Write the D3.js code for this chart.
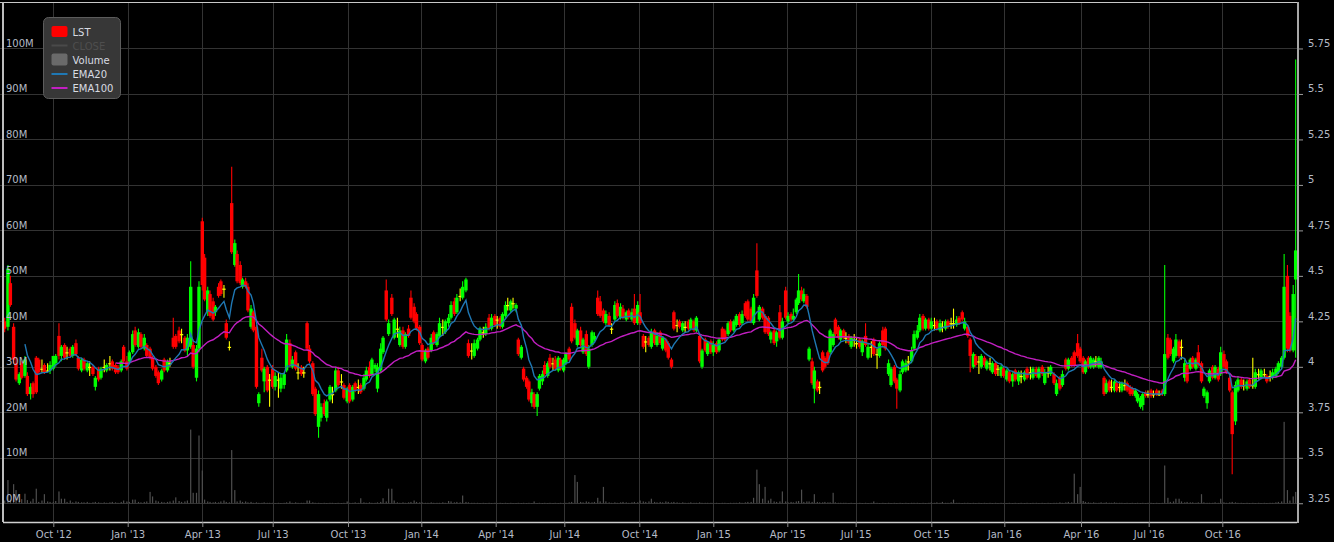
<!DOCTYPE html>
<html><head><meta charset="utf-8">
<script src="https://cdn.jsdelivr.net/npm/d3@7"></script>
<style>
html,body{margin:0;padding:0;background:#000;overflow:hidden}
svg{display:block}
text{font-family:"DejaVu Sans",sans-serif;font-size:10px}
</style>
</head><body>
<svg id="chart" width="1334" height="542"></svg>
<script>
// ---------------- DATA ----------------
const symbol = "LST";
// x-axis ticks (quarter starts) and their labels
const tickDates = ["2012-10-01","2013-01-01","2013-04-01","2013-07-01","2013-10-01","2014-01-01","2014-04-01","2014-07-01","2014-10-01","2015-01-01","2015-04-01","2015-07-01","2015-10-01","2016-01-01","2016-04-01","2016-07-01","2016-10-01"];
const tickLabels = ["Oct '12","Jan '13","Apr '13","Jul '13","Oct '13","Jan '14","Apr '14","Jul '14","Oct '14","Jan '15","Apr '15","Jul '15","Oct '15","Jan '16","Apr '16","Jul '16","Oct '16"];
const priceTicks = [3.25,3.5,3.75,4,4.25,4.5,4.75,5,5.25,5.5,5.75];
const volumeTicks = [0,10,20,30,40,50,60,70,80,90,100]; // millions
const legendItems = ["LST","CLOSE","Volume","EMA20","EMA100"];

// Candles, two sessions per week (Thu / Mon), rows: [open, high, low, close, volume (M)]
const p2012_q3 = [
[4.25,4.27,4.19,4.21,0.6],[4.22,4.56,4.20,4.54,5.1],[4.46,4.50,4.33,4.34,0.8],[4.22,4.24,4.02,4.04,4.2],
[4.02,4.05,3.92,3.93,2.9],[3.91,3.97,3.90,3.96,0.5],[4.02,4.03,3.93,3.94,0.9],[3.95,4.06,3.94,4.04,2.1],
[3.95,3.97,3.84,3.85,0.7],[3.85,3.91,3.82,3.89,0.4],[3.91,3.92,3.83,3.85,1.0],[4.05,4.06,3.85,3.86,3.2],
[4.04,4.05,3.96,3.97,0.3],[3.99,4.04,3.97,3.99,0.6],[4.01,4.02,3.96,3.97,2.0],[3.98,4.02,3.97,3.98,0.4],
[3.98,4.03,3.96,4.01,0.3]];
const p2012_q4 = [
[3.99,4.06,3.98,4.06,0.3],[4.02,4.07,4.00,4.06,0.5],[4.17,4.24,4.04,4.06,2.6],[4.06,4.12,4.03,4.11,1.0],
[4.12,4.13,4.04,4.05,1.0],[4.08,4.11,4.04,4.08,0.3],[4.10,4.11,4.05,4.06,0.6],[4.06,4.12,4.05,4.11,0.2],
[4.13,4.15,4.06,4.07,0.4],[4.05,4.06,3.98,3.99,0.3],[3.98,4.05,3.97,4.04,0.2],[4.04,4.05,3.98,3.99,0.2],
[3.98,4.03,3.97,4.02,0.3],[4.00,4.03,3.95,4.00,0.1],[4.00,4.01,3.95,3.96,0.2],[3.89,3.95,3.87,3.94,0.3],
[3.99,4.00,3.92,3.93,0.2],[3.94,4.00,3.93,3.99,0.1],[4.00,4.04,3.97,4.00,0.2],[3.98,4.02,3.97,4.01,0.1],
[4.02,4.06,3.98,4.02,0.2],[4.03,4.04,3.98,3.99,0.3],[4.01,4.02,3.96,3.97,0.2],[4.00,4.01,3.96,3.97,0.1],
[3.98,4.04,3.97,4.03,0.3],[4.11,4.12,4.02,4.03,0.6],[4.03,4.06,3.98,3.99,0.4]];
const p2013_q1 = [
[4.03,4.09,4.02,4.08,0.3],[4.08,4.20,4.07,4.18,0.8],[4.20,4.22,4.11,4.12,0.8],[4.11,4.21,4.10,4.19,0.3],
[4.18,4.19,4.10,4.11,0.2],[4.10,4.18,4.09,4.16,0.3],[4.12,4.13,4.05,4.06,0.4],[4.10,4.11,4.04,4.05,2.5],
[4.05,4.06,3.98,3.99,1.5],[4.00,4.01,3.94,3.95,0.6],[3.97,3.98,3.90,3.91,0.4],[3.93,3.99,3.92,3.98,0.3],
[4.04,4.05,3.97,3.98,0.2],[3.98,4.04,3.97,4.03,0.3],[4.02,4.05,4.00,4.02,0.4],[4.16,4.27,4.10,4.11,0.6],
[4.17,4.18,4.10,4.11,1.3],[4.20,4.22,4.13,4.14,0.5],[4.18,4.21,4.13,4.18,0.3],[4.16,4.17,4.08,4.09,0.4],
[4.09,4.18,4.06,4.16,0.6],[4.11,4.58,4.10,4.44,16.2],[4.12,4.15,3.99,4.00,2.3],[3.94,4.12,3.92,4.10,2.3],
[4.10,4.47,4.08,4.44,14.9]];
const p2013_q2 = [
[4.80,4.82,4.42,4.45,7.2],[4.60,4.62,4.36,4.37,0.8],[4.30,4.44,4.28,4.42,0.4],[4.40,4.42,4.27,4.28,0.3],
[4.36,4.38,4.25,4.26,0.2],[4.30,4.34,4.28,4.33,0.3],[4.44,4.46,4.38,4.39,0.2],[4.47,4.48,4.39,4.40,0.4],
[4.43,4.45,4.38,4.43,0.6],[4.24,4.26,4.15,4.16,0.3],[4.11,4.14,4.09,4.11,0.2],[4.90,5.10,4.62,4.63,11.7],
[4.56,4.70,4.55,4.68,2.9],[4.62,4.64,4.46,4.47,0.4],[4.56,4.58,4.45,4.46,0.6],[4.44,4.49,4.43,4.48,0.3],
[4.47,4.49,4.43,4.44,0.4],[4.44,4.46,4.30,4.31,0.2],[4.22,4.34,4.21,4.32,0.3],[4.30,4.31,4.19,4.20,0.1],
[4.22,4.23,3.88,3.89,0.2],[3.80,3.86,3.78,3.85,0.1],[4.05,4.10,3.97,3.98,0.1],[3.92,4.00,3.86,3.99,0.2],
[4.00,4.01,3.86,3.87,0.1],[3.93,3.96,3.78,3.93,0.1]];
const p2013_q3 = [
[3.99,4.01,3.88,3.89,0.1],[3.89,3.97,3.87,3.95,0.05],[3.93,3.97,3.83,3.93,0.1],[3.88,3.96,3.86,3.94,0.05],
[3.90,3.97,3.88,3.96,0.1],[3.98,4.18,3.97,4.15,0.2],[4.13,4.15,4.00,4.01,0.4],[4.00,4.06,3.99,4.04,0.1],
[4.08,4.09,3.98,3.99,0.2],[3.97,4.02,3.93,3.97,0.1],[4.00,4.01,3.95,3.96,0.1],[3.97,4.00,3.94,3.97,0.1],
[4.24,4.25,4.09,4.10,0.6],[4.10,4.12,4.02,4.03,0.6],[4.02,4.03,3.84,3.85,0.2],[3.88,3.89,3.73,3.74,0.1],
[3.67,3.87,3.61,3.85,0.1],[3.72,3.80,3.70,3.78,0.05],[3.80,3.82,3.73,3.74,0.1],[3.72,3.82,3.70,3.81,0.05],
[3.82,3.90,3.81,3.89,0.1],[3.85,3.89,3.80,3.85,0.1],[3.87,4.00,3.86,3.98,0.05],[3.98,4.00,3.89,3.90,0.1],
[3.92,3.96,3.88,3.92,0.05],[3.90,3.91,3.82,3.83,0.1],[3.81,3.89,3.80,3.88,0.4]];
const p2013_q4 = [
[3.90,3.91,3.80,3.81,0.1],[3.82,3.90,3.81,3.89,0.1],[3.91,3.92,3.86,3.87,0.2],[3.89,3.93,3.85,3.89,0.1],
[3.90,3.91,3.85,3.86,1.1],[3.88,3.96,3.87,3.94,0.2],[3.93,4.00,3.92,3.98,0.1],[4.00,4.03,3.94,3.95,0.2],
[3.96,4.05,3.95,4.04,0.1],[3.99,4.02,3.97,4.01,0.1],[3.88,4.02,3.86,4.00,0.2],[3.98,4.13,3.97,4.10,0.3],
[4.08,4.17,4.07,4.16,1.1],[4.42,4.48,4.25,4.26,0.4],[4.18,4.26,4.17,4.24,3.2],[4.38,4.40,4.28,4.29,3.2],
[4.16,4.27,4.15,4.26,0.6],[4.21,4.27,4.16,4.21,0.2],[4.12,4.22,4.11,4.20,0.1],[4.20,4.22,4.10,4.11,0.2],
[4.11,4.19,4.10,4.18,0.1],[4.21,4.23,4.16,4.17,0.2],[4.38,4.42,4.26,4.27,0.3],[4.33,4.35,4.24,4.25,0.6],
[4.29,4.30,4.20,4.21,0.3],[4.22,4.23,4.12,4.13,0.2]];
const p2014_q1 = [
[4.12,4.13,4.03,4.04,0.2],[4.03,4.10,4.02,4.09,0.1],[4.10,4.11,4.04,4.05,0.1],[4.09,4.18,4.08,4.16,0.2],
[4.19,4.20,4.12,4.13,0.1],[4.12,4.19,4.11,4.18,0.1],[4.17,4.27,4.16,4.24,0.1],[4.22,4.26,4.17,4.22,0.2],
[4.19,4.26,4.18,4.25,0.1],[4.24,4.29,4.22,4.27,0.5],[4.27,4.36,4.26,4.34,0.4],[4.36,4.38,4.28,4.29,0.2],
[4.30,4.40,4.29,4.38,0.3],[4.39,4.43,4.36,4.39,0.2],[4.38,4.47,4.37,4.44,1.7],[4.42,4.49,4.41,4.48,0.3],
[4.13,4.15,4.05,4.06,0.2],[4.09,4.13,4.04,4.09,0.1],[4.06,4.15,4.05,4.13,0.1],[4.10,4.16,4.09,4.15,0.1],
[4.15,4.22,4.14,4.21,0.05],[4.19,4.22,4.16,4.19,0.1],[4.18,4.24,4.17,4.22,0.05],[4.27,4.29,4.20,4.21,0.1],
[4.21,4.29,4.20,4.27,0.05],[4.28,4.29,4.22,4.23,0.1]];
const p2014_q2 = [
[4.26,4.28,4.21,4.26,0.05],[4.27,4.28,4.21,4.22,0.1],[4.22,4.30,4.21,4.29,0.05],[4.28,4.36,4.27,4.34,0.1],
[4.34,4.38,4.31,4.34,0.05],[4.31,4.37,4.30,4.36,0.1],[4.35,4.38,4.32,4.35,0.05],[4.32,4.35,4.30,4.34,0.05],
[4.15,4.16,4.06,4.07,0.1],[4.05,4.12,4.04,4.11,0.05],[3.99,4.00,3.92,3.93,0.1],[3.94,3.95,3.88,3.89,0.05],
[3.92,3.93,3.81,3.82,0.1],[3.80,3.88,3.78,3.86,0.05],[3.85,3.86,3.77,3.78,0.4],[3.78,3.86,3.73,3.85,0.05],
[3.88,3.96,3.87,3.95,0.1],[3.92,3.98,3.90,3.96,0.05],[4.01,4.03,3.95,3.96,0.1],[3.95,4.03,3.94,4.02,0.05],
[4.05,4.07,3.99,4.00,0.1],[4.02,4.05,3.98,4.02,0.05],[4.04,4.06,3.98,3.99,0.1],[3.98,4.06,3.97,4.05,0.05],
[4.04,4.05,3.98,3.99,0.1],[3.98,4.05,3.97,4.04,0.05]];
const p2014_q3 = [
[4.02,4.08,4.01,4.07,0.1],[4.10,4.11,4.03,4.04,0.2],[4.33,4.35,4.13,4.14,0.3],[4.24,4.26,4.15,4.16,6.2],
[4.12,4.21,4.11,4.20,4.7],[4.20,4.22,4.11,4.12,0.3],[4.08,4.16,4.07,4.15,0.2],[4.18,4.20,4.06,4.07,0.4],
[4.00,4.12,3.99,4.10,0.3],[4.12,4.20,4.11,4.19,0.2],[4.15,4.19,4.14,4.17,0.3],[4.38,4.42,4.28,4.29,1.2],
[4.36,4.39,4.27,4.28,0.4],[4.31,4.32,4.24,4.25,3.6],[4.24,4.31,4.23,4.29,0.4],[4.28,4.30,4.22,4.23,0.2],
[4.21,4.24,4.18,4.21,0.1],[4.26,4.36,4.25,4.34,0.2],[4.35,4.37,4.27,4.28,0.1],[4.27,4.35,4.26,4.33,0.2],
[4.32,4.34,4.26,4.27,0.3],[4.26,4.31,4.25,4.30,0.2],[4.31,4.32,4.26,4.27,0.1],[4.26,4.32,4.25,4.30,0.2],
[4.32,4.40,4.23,4.24,0.3],[4.24,4.36,4.23,4.34,0.2]];
const p2014_q4 = [
[4.30,4.40,4.23,4.24,0.6],[4.17,4.18,4.10,4.11,0.4],[4.14,4.17,4.08,4.14,0.3],[4.16,4.17,4.11,4.12,0.4],
[4.11,4.21,4.10,4.19,1.0],[4.20,4.21,4.12,4.13,0.3],[4.12,4.19,4.11,4.17,0.2],[4.19,4.20,4.12,4.13,0.3],
[4.10,4.17,4.09,4.16,0.2],[4.15,4.16,4.08,4.09,0.4],[4.13,4.14,4.04,4.05,0.3],[4.04,4.05,3.99,4.00,0.2],
[4.30,4.31,4.20,4.21,0.3],[4.23,4.26,4.19,4.23,0.2],[4.25,4.26,4.21,4.22,0.1],[4.20,4.25,4.19,4.24,0.2],
[4.22,4.25,4.19,4.22,0.1],[4.25,4.26,4.20,4.21,0.1],[4.21,4.27,4.20,4.26,0.2],[4.25,4.26,4.19,4.20,0.1],
[4.20,4.28,4.19,4.27,0.1],[4.17,4.18,4.02,4.03,0.2],[4.00,4.10,3.99,4.09,0.1],[4.15,4.16,4.08,4.09,0.1],
[4.07,4.14,4.06,4.13,0.1],[4.14,4.15,4.07,4.08,0.1]];
const p2015_q1 = [
[4.08,4.14,4.06,4.12,0.1],[4.13,4.14,4.07,4.08,0.1],[4.09,4.16,4.08,4.15,0.05],[4.21,4.22,4.14,4.15,0.1],
[4.20,4.21,4.14,4.15,0.1],[4.18,4.25,4.17,4.24,0.05],[4.25,4.26,4.19,4.20,0.1],[4.20,4.26,4.19,4.25,0.1],
[4.23,4.29,4.22,4.28,0.1],[4.29,4.30,4.22,4.23,0.2],[4.24,4.31,4.23,4.29,0.1],[4.35,4.36,4.27,4.28,0.2],
[4.36,4.37,4.25,4.26,0.3],[4.32,4.33,4.24,4.25,0.3],[4.24,4.40,4.23,4.38,1.2],[4.53,4.68,4.38,4.39,7.4],
[4.26,4.34,4.25,4.33,4.2],[4.32,4.33,4.26,4.27,1.0],[4.28,4.29,4.18,4.19,3.6],[4.27,4.28,4.17,4.18,0.6],
[4.15,4.20,4.13,4.19,1.0],[4.20,4.21,4.12,4.13,0.4],[4.14,4.20,4.11,4.19,0.3],[4.30,4.34,4.15,4.16,0.4],
[4.16,4.27,4.15,4.25,2.6],[4.42,4.44,4.26,4.27,0.4]];
const p2015_q2 = [
[4.25,4.30,4.24,4.28,0.2],[4.29,4.30,4.25,4.26,0.3],[4.26,4.32,4.25,4.28,0.2],[4.30,4.38,4.29,4.37,0.4],
[4.35,4.51,4.34,4.42,0.5],[4.42,4.44,4.36,4.37,3.0],[4.36,4.43,4.35,4.40,0.3],[4.39,4.40,4.32,4.33,0.4],
[4.04,4.11,4.03,4.10,0.4],[4.03,4.05,3.90,3.91,0.3],[3.88,4.00,3.80,3.98,2.0],[3.92,3.93,3.86,3.87,0.3],
[3.89,3.92,3.85,3.89,0.2],[4.08,4.09,3.97,3.98,0.2],[4.05,4.06,3.99,4.00,0.3],[4.08,4.09,4.01,4.02,0.2],
[4.08,4.21,4.07,4.20,0.2],[4.12,4.19,4.11,4.18,2.3],[4.26,4.27,4.17,4.18,0.2],[4.22,4.23,4.15,4.16,0.1],
[4.15,4.21,4.14,4.20,0.1],[4.20,4.21,4.15,4.16,0.1],[4.16,4.19,4.13,4.16,0.1],[4.17,4.18,4.12,4.13,0.05],
[4.11,4.17,4.10,4.16,0.1],[4.15,4.18,4.11,4.15,0.05]];
const p2015_q3 = [
[4.13,4.16,4.10,4.13,0.05],[4.15,4.16,4.10,4.11,0.1],[4.08,4.15,4.06,4.14,0.05],[4.17,4.24,4.11,4.12,0.1],
[4.05,4.13,4.04,4.11,0.05],[4.11,4.14,4.05,4.11,0.1],[4.15,4.16,4.06,4.07,0.4],[4.07,4.10,3.99,4.07,0.1],
[4.06,4.14,4.05,4.13,0.05],[4.20,4.22,4.11,4.12,0.1],[4.21,4.22,4.09,4.10,0.05],[3.96,4.04,3.95,4.02,0.1],
[3.90,4.00,3.89,3.99,0.05],[4.00,4.01,3.91,3.92,0.1],[3.93,3.94,3.77,3.88,0.05],[3.87,3.98,3.86,3.96,0.1],
[3.97,4.04,3.96,4.03,0.05],[3.98,4.04,3.97,4.02,0.1],[4.03,4.06,3.98,4.03,0.05],[4.03,4.11,4.02,4.09,0.1],
[4.10,4.20,4.09,4.18,0.1],[4.16,4.23,4.15,4.20,0.1],[4.20,4.29,4.19,4.27,0.05],[4.28,4.29,4.20,4.21,0.1],
[4.21,4.27,4.20,4.26,0.05],[4.26,4.27,4.20,4.21,0.1]];
const p2015_q4 = [
[4.21,4.27,4.20,4.25,0.2],[4.23,4.27,4.20,4.23,0.1],[4.25,4.26,4.20,4.21,0.2],[4.20,4.26,4.19,4.24,0.1],
[4.22,4.25,4.19,4.22,0.3],[4.21,4.26,4.20,4.25,0.1],[4.25,4.26,4.21,4.22,0.1],[4.24,4.27,4.21,4.24,0.2],
[4.24,4.32,4.21,4.24,0.8],[4.23,4.28,4.22,4.26,0.1],[4.27,4.28,4.23,4.24,0.1],[4.30,4.31,4.25,4.26,0.05],
[4.21,4.27,4.20,4.25,0.1],[4.22,4.23,4.16,4.17,0.1],[4.15,4.16,3.97,4.06,0.05],[4.00,4.08,3.99,4.07,0.1],
[4.06,4.07,4.00,4.01,0.05],[4.03,4.06,3.96,4.03,0.1],[4.00,4.07,3.99,4.06,0.05],[4.05,4.06,4.00,4.01,0.1],
[3.99,4.04,3.98,4.03,0.05],[4.02,4.05,3.98,4.02,0.1],[3.97,4.03,3.96,4.02,0.05],[4.02,4.03,3.95,3.96,0.1],
[3.99,4.01,3.95,3.99,0.05],[3.95,4.01,3.94,4.00,0.1],[3.99,4.00,3.94,3.95,0.05]];
const p2016_q1 = [
[3.93,3.99,3.92,3.98,0.05],[3.97,3.98,3.91,3.92,0.1],[3.92,3.97,3.89,3.96,0.05],[3.98,3.99,3.92,3.93,0.1],
[3.92,3.98,3.90,3.97,0.05],[3.95,3.98,3.91,3.95,0.1],[3.93,3.98,3.92,3.97,0.05],[3.99,4.00,3.93,3.94,0.1],
[3.97,4.00,3.93,3.97,0.05],[3.94,4.00,3.93,3.99,0.1],[3.99,4.00,3.94,3.95,0.1],[3.94,4.00,3.93,3.99,0.05],
[4.00,4.01,3.95,3.96,0.1],[3.91,3.99,3.90,3.97,0.05],[3.97,4.00,3.94,3.97,0.1],[3.96,4.01,3.95,4.00,0.05],
[3.96,3.97,3.90,3.91,0.1],[3.85,3.93,3.84,3.91,0.1],[3.94,3.95,3.87,3.88,0.2],[3.90,3.98,3.89,3.96,0.1],
[4.04,4.05,3.98,3.99,0.2],[3.99,4.05,3.98,4.04,0.3],[4.05,4.06,4.00,4.01,0.2],[4.08,4.09,4.00,4.01,6.5],
[4.13,4.18,4.05,4.06,2.0],[4.10,4.11,4.02,4.03,3.6]];
const p2016_q2 = [
[4.05,4.06,3.96,3.97,0.5],[3.97,4.04,3.96,4.03,0.3],[4.05,4.06,3.99,4.00,0.2],[4.00,4.06,3.99,4.05,0.1],
[4.00,4.05,3.99,4.04,0.2],[4.03,4.06,4.00,4.03,0.1],[4.00,4.06,3.99,4.05,0.1],[4.00,4.05,3.99,4.03,0.2],
[3.94,3.95,3.84,3.85,0.1],[3.86,3.93,3.85,3.91,0.2],[3.92,3.93,3.86,3.87,0.1],[3.89,3.93,3.86,3.89,0.1],
[3.87,3.93,3.86,3.92,0.2],[3.91,3.92,3.86,3.87,0.1],[3.89,3.92,3.86,3.89,0.1],[3.87,3.92,3.86,3.91,0.1],
[3.90,3.93,3.87,3.90,0.05],[3.91,3.92,3.86,3.87,0.1],[3.89,3.90,3.84,3.85,0.05],[3.88,3.89,3.84,3.85,0.1],
[3.84,3.88,3.83,3.87,0.05],[3.81,3.86,3.80,3.85,0.1],[3.78,3.84,3.77,3.83,0.05],[3.79,3.86,3.76,3.85,0.1],
[3.86,3.87,3.83,3.84,0.05],[3.85,3.87,3.83,3.85,0.1]];
const p2016_q3 = [
[3.87,3.88,3.83,3.84,0.1],[3.85,3.87,3.83,3.85,0.05],[3.87,3.88,3.84,3.85,0.1],[3.85,3.87,3.84,3.85,0.05],
[3.87,3.88,3.84,3.85,0.1],[3.85,4.56,3.84,4.07,8.3],[4.16,4.18,4.04,4.05,1.2],[4.15,4.16,4.06,4.07,0.3],
[4.03,4.11,4.02,4.10,0.4],[4.06,4.18,4.05,4.15,1.0],[4.14,4.15,4.05,4.06,1.0],[4.11,4.15,4.04,4.11,0.4],
[3.94,4.04,3.92,4.02,0.2],[4.01,4.02,3.91,3.92,0.3],[3.99,4.05,3.98,4.04,0.2],[4.05,4.06,3.99,4.00,0.2],
[3.99,4.05,3.98,4.04,0.1],[4.08,4.12,4.00,4.01,0.2],[4.02,4.03,3.91,3.92,2.0],[3.84,3.89,3.83,3.88,0.2],
[3.80,3.87,3.77,3.86,0.1],[3.92,3.99,3.91,3.98,0.1],[4.00,4.01,3.93,3.94,0.1],[3.94,4.01,3.93,4.00,0.2],
[3.99,4.00,3.92,3.93,0.1],[3.96,4.11,3.95,4.08,1.0]];
const p2016_q4 = [
[4.07,4.09,3.99,4.00,0.2],[4.03,4.04,3.96,3.97,0.1],[3.94,3.95,3.86,3.87,0.2],[3.86,3.87,3.41,3.63,0.3],
[3.70,3.92,3.68,3.90,0.2],[3.87,3.95,3.86,3.93,0.1],[3.93,3.94,3.88,3.89,0.1],[3.90,3.93,3.87,3.90,0.05],
[3.88,3.93,3.87,3.92,0.1],[3.93,3.94,3.88,3.89,0.05],[3.90,4.05,3.88,3.90,0.1],[3.89,3.99,3.88,3.97,0.05],
[3.96,3.99,3.93,3.96,0.1],[3.94,3.99,3.93,3.98,0.05],[3.96,3.99,3.94,3.96,0.1],[3.95,3.96,3.91,3.92,0.05],
[3.95,3.98,3.92,3.95,0.1],[3.94,3.99,3.93,3.97,0.1],[3.95,4.00,3.94,3.99,0.2],[3.97,4.03,3.96,4.02,0.3],
[4.00,4.06,3.99,4.05,0.4],[4.05,4.62,4.04,4.44,17.9],[4.50,4.56,4.08,4.10,2.9],[4.28,4.30,4.08,4.09,0.6],
[4.09,4.45,4.08,4.40,1.5],[4.48,5.69,4.05,4.64,2.5]];

// ---------------- LAYOUT ----------------
const W = 1334, H = 542;
const plot = {left: 3, right: 1297, top: 3, bottom: 522};
const colors = {up: "#00ff00", down: "#ff0000", flat: "#ffff00", volume: "#4e4e4e",
  ema20: "#1f78b4", ema100: "#c21fc2", grid: "#333333", text: "#b4bac6"};
const bodyWidth = 3.4;

const rows = [].concat(p2012_q3, p2012_q4, p2013_q1, p2013_q2, p2013_q3, p2013_q4,
  p2014_q1, p2014_q2, p2014_q3, p2014_q4, p2015_q1, p2015_q2, p2015_q3, p2015_q4,
  p2016_q1, p2016_q2, p2016_q3, p2016_q4);

const start = new Date(Date.UTC(2012, 7, 2)), end = new Date(Date.UTC(2016, 11, 30));
const dates = d3.utcThursday.range(start, end).concat(d3.utcMonday.range(start, end)).sort((a, b) => a - b);
const data = rows.map((r, i) => ({date: dates[i], open: r[0], high: r[1], low: r[2], close: r[3], volume: r[4]}));

const parse = d3.utcParse("%Y-%m-%d");
const tickDateObjs = tickDates.map(parse);
// piecewise time scale calibrated on the session axis of the original
const tickPx = [53.3,127.7,202.3,272.7,348,421.3,495.7,564.3,639.3,713.3,787.3,855.7,931.3,1004.3,1081,1148.7,1222.3];
const x = d3.scaleUtc().domain([start, ...tickDateObjs, end]).range([4.7, ...tickPx, 1296.5]);
const y = d3.scaleLinear().domain([3.147, 6.0]).range([plot.bottom, plot.top]);
const yVol = d3.scaleLinear().domain([-4.12, 110]).range([plot.bottom, plot.top]);

function ema(vals, n) {
  const k = 2 / (n + 1); const out = []; let prev = null;
  vals.forEach((v, i) => {
    if (i < n - 1) { out.push(null); return; }
    prev = (i === n - 1) ? d3.mean(vals.slice(0, n)) : v * k + prev * (1 - k);
    out.push(prev);
  });
  return out;
}
const closes = data.map(d => d.close);
const ema20 = ema(closes, 8);   // 20 sessions ≈ 8 twice-weekly bars
const ema100 = ema(closes, 40); // 100 sessions ≈ 40 twice-weekly bars

// ---------------- DRAW ----------------
const svg = d3.select("#chart");
svg.append("rect").attr("width", W).attr("height", H).attr("fill", "#000");

// grid
const grid = svg.append("g").attr("shape-rendering", "crispEdges");
grid.selectAll("line.h").data(priceTicks).join("line")
  .attr("x1", 0).attr("x2", plot.right).attr("y1", d => Math.round(y(d)) + 0.5).attr("y2", d => Math.round(y(d)) + 0.5)
  .attr("stroke", colors.grid);
grid.selectAll("line.v").data(tickDateObjs).join("line")
  .attr("y1", plot.top).attr("y2", plot.bottom).attr("x1", d => Math.round(x(d)) + 0.5).attr("x2", d => Math.round(x(d)) + 0.5)
  .attr("stroke", colors.grid);

// volume
svg.append("g").selectAll("rect").data(data).join("rect")
  .attr("x", d => x(d.date) - 0.6).attr("width", 1.2)
  .attr("y", d => yVol(d.volume)).attr("height", d => Math.max(0.5, yVol(0) - yVol(d.volume)))
  .attr("fill", colors.volume);

// candles
const col = d => d.close > d.open ? colors.up : d.close < d.open ? colors.down : colors.flat;
const cg = svg.append("g");
const c = cg.selectAll("g").data(data).join("g");
c.append("line").attr("x1", d => x(d.date)).attr("x2", d => x(d.date))
  .attr("y1", d => y(d.high)).attr("y2", d => y(d.low)).attr("stroke", col).attr("stroke-width", 1.1);
c.append("rect").attr("x", d => x(d.date) - bodyWidth / 2).attr("width", bodyWidth)
  .attr("y", d => y(Math.max(d.open, d.close)))
  .attr("height", d => Math.max(1.2, y(Math.min(d.open, d.close)) - y(Math.max(d.open, d.close))))
  .attr("fill", col);

// EMA lines
const lineGen = arr => d3.line().defined((d, i) => arr[i] != null).x(d => x(d.date)).y((d, i) => y(arr[i]));
svg.append("path").datum(data).attr("d", lineGen(ema100)).attr("fill", "none").attr("stroke", colors.ema100).attr("stroke-width", 1.4);
svg.append("path").datum(data).attr("d", lineGen(ema20)).attr("fill", "none").attr("stroke", colors.ema20).attr("stroke-width", 1.4);

// borders
const b = svg.append("g").attr("shape-rendering", "crispEdges");
b.append("line").attr("x1", 0).attr("x2", plot.right + 1).attr("y1", 2.5).attr("y2", 2.5).attr("stroke", "#c8c8c8").attr("stroke-width", 1.5);
b.append("line").attr("x1", 2.5).attr("x2", 2.5).attr("y1", 2).attr("y2", plot.bottom).attr("stroke", "#bdbdbd").attr("stroke-width", 2);
b.append("line").attr("x1", plot.right + 0.5).attr("x2", plot.right + 0.5).attr("y1", 2).attr("y2", plot.bottom + 1).attr("stroke", "#a8a8a8").attr("stroke-width", 2);

// bottom axis
const xAxis = d3.axisBottom(x).tickValues(tickDateObjs).tickFormat((d, i) => tickLabels[i]).tickSize(5).tickPadding(4);
const gx = svg.append("g").attr("transform", `translate(0,${plot.bottom})`).call(xAxis);
gx.select(".domain").attr("d", `M${plot.left},0.5H${plot.right}`).attr("stroke", "#cfcfcf").attr("stroke-width", 1.5);
gx.selectAll(".tick line").attr("stroke", "#8a8a8a");
gx.selectAll(".tick text").attr("fill", colors.text).attr("font-size", 10).attr("font-family", "DejaVu Sans, sans-serif");

// right price axis
const yAxis = d3.axisRight(y).tickValues(priceTicks).tickFormat(d => String(d)).tickSize(6).tickPadding(5);
const gy = svg.append("g").attr("transform", `translate(${plot.right},0)`).call(yAxis);
gy.select(".domain").remove();
gy.selectAll(".tick line").attr("stroke", "#9a9a9a");
gy.selectAll(".tick text").attr("fill", colors.text).attr("dy", -2).attr("x", 11)
  .attr("font-size", 10).attr("font-family", "DejaVu Sans, sans-serif");

// left volume axis (labels inside plot)
const vAxis = d3.axisRight(yVol).tickValues(volumeTicks).tickFormat(d => d + "M").tickSize(0).tickPadding(3);
const gv = svg.append("g").attr("transform", `translate(${plot.left},0)`).call(vAxis);
gv.select(".domain").remove();
gv.selectAll(".tick text").attr("fill", colors.text).attr("dy", -2)
  .attr("font-size", 10).attr("font-family", "DejaVu Sans, sans-serif");

// legend
const lg = svg.append("g").attr("transform", "translate(43.5,17.5)");
lg.append("rect").attr("width", 77).attr("height", 81).attr("rx", 5).attr("fill", "#373737").attr("stroke", "#5c5c5c");
const rowsY = [14, 28, 42, 56.5, 70.5];
lg.append("rect").attr("x", 8).attr("y", rowsY[0] - 5.5).attr("width", 16).attr("height", 11).attr("rx", 2).attr("fill", colors.down);
lg.append("line").attr("x1", 8).attr("x2", 24).attr("y1", rowsY[1]).attr("y2", rowsY[1]).attr("stroke", "#4a4a4a").attr("stroke-width", 2);
lg.append("rect").attr("x", 8).attr("y", rowsY[2] - 6).attr("width", 16).attr("height", 12).attr("rx", 2).attr("fill", "#6a6a6a");
lg.append("line").attr("x1", 8).attr("x2", 24).attr("y1", rowsY[3]).attr("y2", rowsY[3]).attr("stroke", colors.ema20).attr("stroke-width", 2);
lg.append("line").attr("x1", 8).attr("x2", 24).attr("y1", rowsY[4]).attr("y2", rowsY[4]).attr("stroke", colors.ema100).attr("stroke-width", 2);
lg.selectAll("text.item").data(legendItems).join("text")
  .attr("x", 29).attr("y", (d, i) => rowsY[i] + 4)
  .attr("fill", (d, i) => i === 1 ? "#4e4e4e" : "#d8dbe2")
  .text(d => d);
</script>
</body></html>
